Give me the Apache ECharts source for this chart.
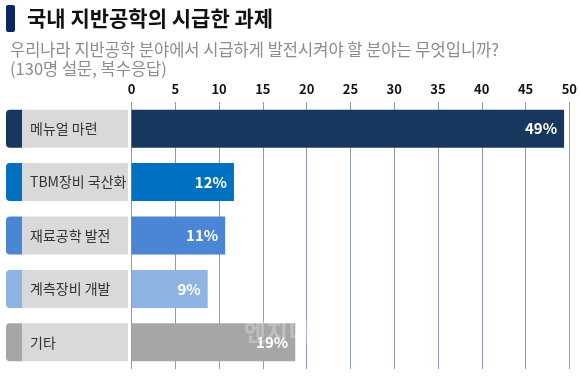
<!DOCTYPE html>
<html><head><meta charset="utf-8">
<script src="https://cdn.jsdelivr.net/npm/echarts@6/dist/echarts.min.js"></script>
<style>html,body{margin:0;padding:0;background:#fff}#c{width:580px;height:380px}</style>
</head><body><div id="c"></div>
<script>
const categories = ['메뉴얼 마련', 'TBM장비 국산화', '재료공학 발전', '계측장비 개발', '기타'];
const values = [49.4, 11.7, 10.7, 8.7, 18.7];
const pctLabels = ['49%', '12%', '11%', '9%', '19%'];
const colors = ['#17375e', '#0070c0', '#4a86d4', '#8db4e2', '#a6a6a6'];
const ticks = [0, 5, 10, 15, 20, 25, 30, 35, 40, 45, 50];

const FONT = '"Noto Sans CJK KR", "Noto Sans", sans-serif';
const rich = {
  box: { backgroundColor: '#d9d9d9', width: 98, height: 38, lineHeight: 38, padding: [0, 0, 0, 8], color: '#333', fontSize: 14, fontFamily: FONT, align: 'left' }
};
colors.forEach((c, i) => {
  rich['s' + i] = { backgroundColor: c, width: 16, height: 38, borderRadius: [4, 0, 0, 4] };
});

const chart = echarts.init(document.getElementById('c'));
chart.setOption({
  animation: false,
  title: [
    { text: '국내 지반공학의 시급한 과제', left: 22, top: 3,
      textStyle: { fontFamily: FONT, fontSize: 21, fontWeight: 'bold', color: '#111' } },
    { text: '우리나라 지반공학 분야에서 시급하게 발전시켜야 할 분야는 무엇입니까?\n(130명 설문, 복수응답)', left: 5, top: 35,
      textStyle: { fontFamily: FONT, fontSize: 16.5, fontWeight: 'normal', color: '#8c8c8c', lineHeight: 19 } }
  ],
  graphic: [
    { type: 'rect', left: 6, top: 5, shape: { width: 9, height: 27, r: 2 }, style: { fill: '#0d2560' } },
    { type: 'text', left: 244, top: 320, silent: true, z: 10,
      style: { text: '엔지니', fill: 'rgba(255,255,255,0.28)', font: 'bold 24px ' + FONT } }
  ],
  grid: { left: 131.5, right: 8.5, top: 102, height: 267 },
  xAxis: {
    type: 'value', position: 'top', min: 0, max: 50, interval: 5,
    axisLine: { show: false }, axisTick: { show: false },
    axisLabel: { margin: 6, color: '#111', fontWeight: 'bold', fontSize: 13, fontFamily: FONT,
      formatter: v => ticks.includes(v) ? String(v) : '' },
    splitLine: { show: true, lineStyle: { color: '#8a9bb3', width: 1 } }
  },
  yAxis: {
    type: 'category', data: categories, inverse: true,
    axisLine: { show: false }, axisTick: { show: false },
    axisLabel: { margin: 125.5, align: 'left', rich: rich,
      formatter: (v, i) => '{s' + i + '|}{box|' + v + '}' }
  },
  series: [{
    type: 'bar', data: values.map((v, i) => ({ value: v, itemStyle: { color: colors[i] } })),
    barWidth: 38,
    label: { show: true, position: 'insideRight', distance: 7, color: '#fff', fontWeight: 'bold', fontSize: 15, fontFamily: FONT,
      formatter: p => pctLabels[p.dataIndex] }
  }]
});
</script></body></html>
